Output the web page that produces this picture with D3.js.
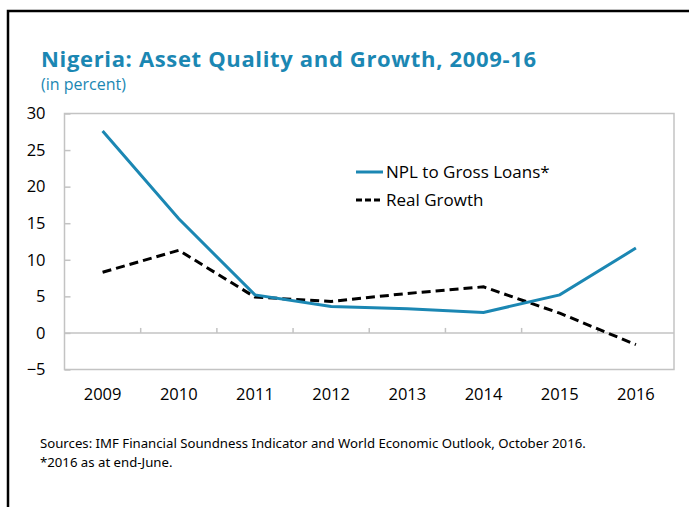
<!DOCTYPE html>
<html>
<head>
<meta charset="utf-8">
<script src="https://cdn.jsdelivr.net/npm/d3@7"></script>
<style>
  body { margin: 0; background: #fff; }
  svg { display: block; }
</style>
</head>
<body>
<script>
const width = 689, height = 507;

// data
const years = ["2009", "2010", "2011", "2012", "2013", "2014", "2015", "2016"];
const nplToGrossLoans = [27.6, 15.6, 5.2, 3.6, 3.3, 2.8, 5.2, 11.6];
const realGrowth = [8.3, 11.3, 4.9, 4.3, 5.4, 6.3, 2.7, -1.6];
const yTicks = [-5, 0, 5, 10, 15, 20, 25, 30];
const seriesNames = ["NPL to Gross Loans*", "Real Growth"];

const blue = "#1b87b3";
const grey = "#c3c3c3";

const svg = d3.select("body").append("svg")
    .attr("width", width)
    .attr("height", height);

// outer frame (only top and left visible in the crop)
svg.append("rect")
    .attr("x", 8).attr("y", 11)
    .attr("width", 720).attr("height", 540)
    .attr("fill", "none")
    .attr("stroke", "#000")
    .attr("stroke-width", 2.5);

svg.append("text")
    .attr("x", 41).attr("y", 66.5)
    .attr("fill", blue)
    .attr("textLength", 495)
    .attr("lengthAdjust", "spacing")
    .style("font-family", "'Open Sans', sans-serif")
    .style("font-weight", "bold")
    .style("font-size", "22px")
    .text("Nigeria: Asset Quality and Growth, 2009-16");

svg.append("text")
    .attr("x", 41).attr("y", 89.5)
    .attr("fill", blue)
    .style("font-family", "'Open Sans', sans-serif")
    .style("font-size", "16px")
    .text("(in percent)");

const x = d3.scaleBand().domain(years).range([64.5, 674]);
const y = d3.scaleLinear().domain([-5, 30]).range([369.5, 113.5]);
const cx = d => x(d) + x.bandwidth() / 2;

// plot frame
svg.append("rect")
    .attr("x", x.range()[0]).attr("y", y(30))
    .attr("width", x.range()[1] - x.range()[0])
    .attr("height", y(-5) - y(30))
    .attr("fill", "none")
    .attr("stroke", grey)
    .attr("stroke-width", 1.5);

// zero line with category ticks
svg.append("line")
    .attr("x1", x.range()[0]).attr("x2", x.range()[1])
    .attr("y1", y(0)).attr("y2", y(0))
    .attr("stroke", grey).attr("stroke-width", 1.5);

svg.append("g").selectAll("line")
  .data(years.slice(1))
  .join("line")
    .attr("x1", d => x(d)).attr("x2", d => x(d))
    .attr("y1", y(0)).attr("y2", y(0) - 5)
    .attr("stroke", grey).attr("stroke-width", 1.5);

const yAxis = svg.append("g")
    .attr("transform", `translate(${x.range()[0]},0)`)
    .call(d3.axisLeft(y).tickValues(yTicks).tickSize(-6).tickPadding(19));
yAxis.select(".domain").remove();
yAxis.selectAll(".tick line").attr("stroke", grey).attr("stroke-width", 1.5);
yAxis.selectAll("text")
    .attr("fill", "#000")
    .style("font-family", "'Open Sans', sans-serif")
    .style("font-size", "16.5px");

const xAxis = svg.append("g")
    .attr("transform", `translate(0,${y(-5)})`)
    .call(d3.axisBottom(x).tickSize(0).tickPadding(19));
xAxis.select(".domain").remove();
xAxis.selectAll("text")
    .attr("fill", "#000")
    .style("font-family", "'Open Sans', sans-serif")
    .style("font-size", "16.5px");

const line = d3.line()
    .x((d, i) => cx(years[i]))
    .y(d => y(d));

svg.append("path")
    .datum(realGrowth)
    .attr("d", line)
    .attr("fill", "none")
    .attr("stroke", "#000")
    .attr("stroke-width", 3)
    .attr("stroke-dasharray", "9,5");

svg.append("path")
    .datum(nplToGrossLoans)
    .attr("d", line)
    .attr("fill", "none")
    .attr("stroke", blue)
    .attr("stroke-width", 3);

// legend
const legend = svg.append("g")
    .selectAll("g")
    .data(seriesNames)
    .join("g")
    .attr("transform", (d, i) => `translate(356,${172 + i * 28})`);

legend.append("line")
    .attr("x1", 0).attr("x2", 27)
    .attr("stroke", (d, i) => i ? "#000" : blue)
    .attr("stroke-width", 3)
    .attr("stroke-dasharray", (d, i) => i ? "6,3" : null);

legend.append("text")
    .attr("x", 30).attr("y", 5.5)
    .attr("fill", "#000")
    .style("font-family", "'Open Sans', sans-serif")
    .style("font-size", "17px")
    .text(d => d);

// notes
const notes = ["Sources: IMF Financial Soundness Indicator and World Economic Outlook, October 2016.",
               "*2016 as at end-June."];
svg.append("g").selectAll("text")
  .data(notes)
  .join("text")
    .attr("x", 40)
    .attr("y", (d, i) => 448 + i * 19)
    .attr("fill", "#000")
    .style("font-family", "'Noto Sans', sans-serif")
    .style("font-size", "13.2px")
    .text(d => d);
</script>
</body>
</html>
